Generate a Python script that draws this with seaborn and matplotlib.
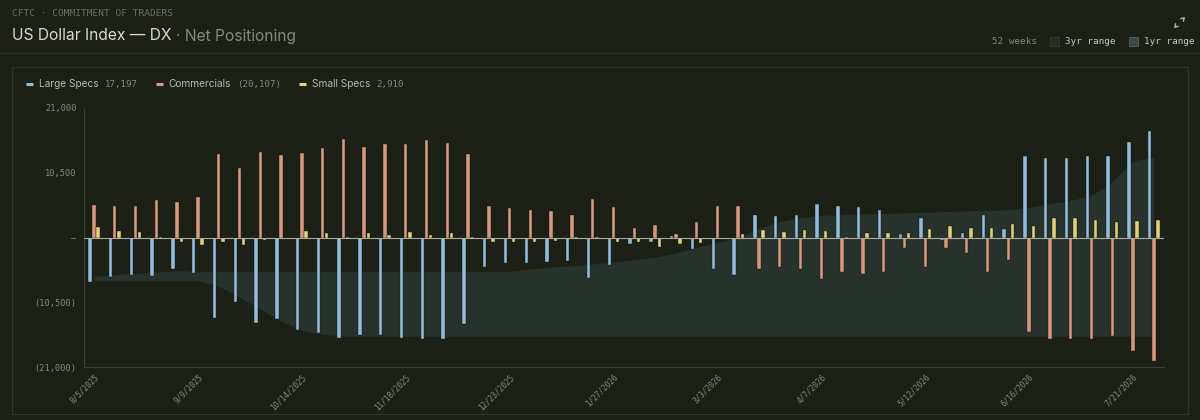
"""Posicionamiento neto COT del índice dólar (DX)."""
import pandas as pd
import matplotlib
matplotlib.use('Agg')
import matplotlib.pyplot as plt
import seaborn as sns
from matplotlib.lines import Line2D
from matplotlib.patches import Rectangle, FancyArrowPatch

# --- datos ---------------------------------------------------------------
start_week = '2025-08-05'
n_weeks = 52

large_specs = [-7170, -6350, -6140, -6240, -5160, -5700, -13030, -10480, -13790, -13250,
               -15040, -15530, -16290, -15750, -15750, -16290, -16510, -16400, -13960,
               -4720, -4130, -4130, -3910, -3800, -6520, -4510, -980, -810, 220, -1900,
               -5050, -6030, 3640, 3480, 3580, 5430, 5100, 4890, 4450, 600, 3150, -430,
               760, 3690, 1300, 13140, 12870, 12920, 13250, 13140, 15530, 17197]
commercials = [5320, 5050, 5050, 6140, 5760, 6570, 13520, 11350, 13790, 13300,
               13740, 14500, 15910, 14720, 15150, 15100, 15860, 15370, 13580,
               5100, 4720, 4510, 4340, 3690, 6240, 5000, 1470, 2010, 540, 2500,
               5160, 5160, -5050, -4720, -5050, -6790, -5540, -5970, -5540, -1680, -4780,
               -1680, -2500, -5540, -3690, -15310, -16400, -16400, -16400, -15960, -18460,
               -20107]
small_specs = [1630, 1090, 870, 50, -810, -1190, -700, -1190, -330, -270,
               1090, 760, 110, 760, 380, 920, 380, 710, 160,
               -650, -810, -650, -600, 100, 50, -700, -700, -1520, -1090, -870,
               -220, 490, 1190, 870, 1140, 1090, 110, 760, 810, 810, 1360, 1900,
               1470, 1520, 2120, 1790, 3200, 3150, 2880, 2550, 2660, 2910]

# banda de rango de 1 año (large specs)
range_1yr_low = [-7000, -7000, -7000, -7000, -7000, -7000, -7900, -9700, -11600, -13500,
                 -15100, -15700] + [-16000] * 40
range_1yr_high = [-6300, -6000, -5800, -5600, -5400, -5500, -5500, -5500, -5500, -5500,
                  -5500, -5500, -5500, -5500, -5500, -5500, -5500, -5500, -5500, -5500,
                  -5500, -5100, -4800, -4600, -4300, -4000, -3600, -3200, -2500, -1600,
                  -800, 0, 1500, 2600, 3200, 3600, 3700, 3800, 3900, 4000, 4100, 4200,
                  4300, 4400, 4500, 4900, 5500, 6000, 6800, 9000, 12400, 13100]

series_names = ['Large Specs', 'Commercials', 'Small Specs']
series_colors = ['#93bcdc', '#d6997f', '#e3d27a']
y_ticks = [21000, 10500, 0, -10500, -21000]
y_tick_labels = ['21,000', '10,500', '–', '(10,500)', '(21,000)']

# --- estilo --------------------------------------------------------------
BG = '#1c2017'
TEXT = '#c9ccc0'
MUTED = '#858a7c'
MONO = 'DejaVu Sans Mono'
W, H = 1200, 420

sns.set_theme(style='dark')
plt.rcParams['font.family'] = ['Inter', 'DejaVu Sans']


def fx(x):
    return x / W


def fy(y):
    return 1 - y / H


def fmt_num(v):
    s = f'{abs(v):,.0f}'
    return f'({s})' if v < 0 else s


dates = pd.date_range(start_week, periods=n_weeks, freq='7D')
week_labels = [f'{d.month}/{d.day}/{d.year}' for d in dates]

df = pd.DataFrame({'week': week_labels,
                   'Large Specs': large_specs,
                   'Commercials': commercials,
                   'Small Specs': small_specs})
long_df = df.melt(id_vars='week', var_name='series', value_name='net')

fig = plt.figure(figsize=(12, 4.2), dpi=100, facecolor=BG)

# tarjeta y separador de cabecera (detrás de los ejes)
fig.add_artist(Line2D([0, 1], [fy(53), fy(53)], color='#2a3022', lw=0.8, zorder=-2))
fig.add_artist(Rectangle((fx(12), fy(414)), fx(1176), (414 - 67) / H, facecolor='none',
                         edgecolor='#30372a', lw=0.9, zorder=-2))

ax = fig.add_axes([83.6 / W, fy(367), 1080.6 / W, 259 / H])
ax.set_facecolor(BG)
ax.patch.set_alpha(0)

x_pos = list(range(n_weeks))
ax.fill_between(x_pos, range_1yr_low, range_1yr_high, color='#6f9ca6', alpha=0.15,
                lw=0, zorder=0.5)

sns.barplot(data=long_df, x='week', y='net', hue='series', order=week_labels,
            hue_order=series_names, palette=series_colors, width=0.6, gap=0.18,
            saturation=1, errorbar=None, legend=False, edgecolor='#12150d',
            linewidth=0.3, ax=ax, zorder=2)

ax.axhline(0, color='#a9ac9e', lw=0.8, zorder=3)
ax.set_xlim(-0.5, n_weeks - 0.5)
ax.set_ylim(-21000, 21000)
ax.set_xlabel('')
ax.set_ylabel('')

ax.set_yticks(y_ticks)
ax.set_yticklabels(y_tick_labels, family=MONO, fontsize=6.2, color=MUTED)
ax.set_xticks(x_pos[::5])
ax.set_xticklabels(week_labels[::5], family=MONO, fontsize=5.5, color=MUTED,
                   rotation=45, ha='right', rotation_mode='anchor')
ax.tick_params(axis='both', length=0)
ax.tick_params(axis='y', pad=5)
ax.tick_params(axis='x', pad=4)
ax.grid(False)
sns.despine(ax=ax)
for side in ('left', 'bottom'):
    ax.spines[side].set_color('#3a4131')
    ax.spines[side].set_linewidth(0.8)

# --- cabecera ----------------------------------------------------------
fig.text(fx(12), fy(14), 'CFTC · COMMITMENT OF TRADERS', family=MONO, fontsize=6.8,
         color='#6c7165', va='center')
title = fig.text(fx(12), fy(36), 'US Dollar Index — DX', fontsize=11.2, color='#d9dccf',
                 va='center')
fig.canvas.draw()
renderer = fig.canvas.get_renderer()
bb = title.get_window_extent(renderer)
fig.text(bb.x1 / W + fx(4), fy(36), '· Net Positioning', fontsize=11.2, color='#858a7c',
         va='center')

fig.text(fx(992), fy(42), '52 weeks', family=MONO, fontsize=6.7, color=MUTED, va='center')
fig.add_artist(Rectangle((fx(1050), fy(46)), fx(9), 9 / H, facecolor='#262b22',
                         edgecolor='#363c31', lw=0.6))
fig.text(fx(1065), fy(42), '3yr range', family=MONO, fontsize=6.7, color=TEXT, va='center')
fig.add_artist(Rectangle((fx(1129), fy(46)), fx(9), 9 / H, facecolor='#3d4846',
                         edgecolor='#58625c', lw=0.6))
fig.text(fx(1144), fy(42), '1yr range', family=MONO, fontsize=6.7, color=TEXT, va='center')

# icono expandir: dos flechas hacia fuera
for start, end in (((1181, 21), (1187, 15)), ((1178, 24), (1172, 30))):
    fig.add_artist(FancyArrowPatch((fx(start[0]), fy(start[1])), (fx(end[0]), fy(end[1])),
                                   transform=fig.transFigure,
                                   arrowstyle='->,head_length=2.2,head_width=1.4',
                                   color='#b3b7aa', lw=0.9))

# --- leyenda -----------------------------------------------------------
legend_values = [large_specs[-1], commercials[-1], small_specs[-1]]
x = 26
for name, color, val in zip(series_names, series_colors, legend_values):
    fig.add_artist(Line2D([fx(x), fx(x + 7)], [fy(84), fy(84)], color=color, lw=2.2,
                          solid_capstyle='butt'))
    t = fig.text(fx(x + 13), fy(84), name, fontsize=7.3, color='#b7baae', va='center')
    bb = t.get_window_extent(renderer)
    t2 = fig.text(bb.x1 / W + fx(6), fy(84), fmt_num(val), family=MONO, fontsize=6.6,
                  color=MUTED, va='center')
    bb2 = t2.get_window_extent(renderer)
    x = bb2.x1 + 18

fig.savefig('out.png', dpi=100, facecolor=BG)
